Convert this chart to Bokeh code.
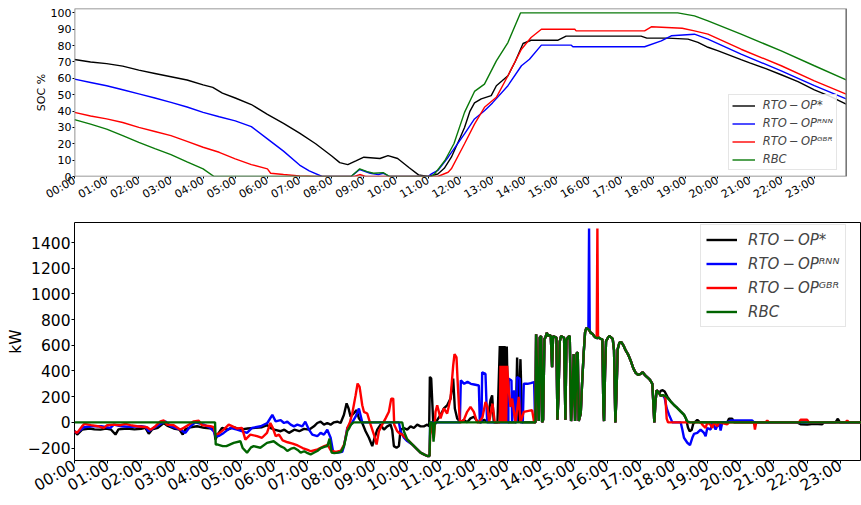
import math
from bokeh.plotting import figure
from bokeh.models import FixedTicker, Range1d, Legend, LegendItem, BoxAnnotation
from bokeh.layouts import column
from bokeh.embed import file_html
from bokeh.resources import INLINE

FONT = "DejaVu Sans"

# ---------------- labels / ticks / limits ----------------
hour_ticks = [0, 1, 2, 3, 4, 5, 6, 7, 8, 9, 10, 11, 12, 13, 14, 15, 16, 17, 18, 19, 20, 21, 22, 23]
hour_labels = ["00:00", "01:00", "02:00", "03:00", "04:00", "05:00", "06:00", "07:00",
               "08:00", "09:00", "10:00", "11:00", "12:00", "13:00", "14:00", "15:00",
               "16:00", "17:00", "18:00", "19:00", "20:00", "21:00", "22:00", "23:00"]
soc_ticks = [0, 10, 20, 30, 40, 50, 60, 70, 80, 90, 100]
soc_xlim = (0, 24)
soc_ylim = (0, 102.7)
kw_ticks = [-200, 0, 200, 400, 600, 800, 1000, 1200, 1400]
kw_labels = ["\u2212200", "0", "200", "400", "600", "800", "1000", "1200", "1400"]
series_names = ["RTO\u2009\u2212\u2009OP*", "RTO\u2009\u2212\u2009OP\u1d3f\u1d3a\u1d3a",
                "RTO\u2009\u2212\u2009OP\u1d33\u1d2e\u1d3f", "RBC"]

# ---------------- SOC (%) : (hour, value) ----------------
soc_opt = [(0.0, 71.5), (0.5, 70), (1.0, 69), (1.5, 67.5), (2.0, 65), (2.5, 63), (3.0, 61), (3.5, 59),
           (4.0, 56), (4.3, 54.5), (4.6, 51), (5.0, 48), (5.5, 44), (6.0, 38), (6.5, 32.5), (7.0, 26.5),
           (7.5, 20), (8.0, 12.5), (8.25, 8.5), (8.5, 7.3), (8.75, 9.5), (9.0, 11.8), (9.5, 11),
           (9.75, 12.8), (10.05, 11), (10.4, 5.5), (10.7, 1), (11.0, 0), (11.3, 1.5), (11.5, 5),
           (11.72, 11.8), (12.0, 24), (12.13, 30), (12.3, 40), (12.44, 45), (12.65, 47.5), (12.96, 49.4),
           (13.12, 55.5), (13.3, 58.5), (13.48, 61.6), (13.7, 70), (13.95, 81.3), (14.2, 83.3),
           (15.04, 83.3), (15.29, 85.8), (17.62, 85.8), (17.8, 84.6), (18.45, 84.6), (19.08, 84),
           (19.39, 82), (19.7, 79), (20.0, 77), (20.73, 71.5), (21.0, 69.5), (21.5, 66), (21.98, 62.2),
           (22.5, 58), (23.01, 53), (23.5, 49), (24.0, 44.3)]
soc_rnn = [(0.0, 59.5), (0.5, 57.5), (1.0, 55.5), (1.5, 53), (2.0, 50.5), (2.5, 48), (3.0, 45.3),
           (3.5, 42.5), (4.0, 39.2), (4.5, 36.5), (5.0, 34), (5.5, 30.5), (6.0, 23), (6.5, 15.5),
           (7.0, 7), (7.3, 3.5), (7.7, 0), (8.6, 0), (8.87, 4.3), (9.2, 2), (9.45, 1.2), (9.6, 2),
           (9.8, 0), (11.0, 0), (11.1, 1.6), (11.3, 3.7), (11.62, 11.8), (12.13, 26), (12.44, 35.2),
           (12.75, 40.2), (13.0, 45), (13.48, 55.5), (13.9, 67.7), (14.15, 71.7), (14.52, 80.3),
           (15.45, 80.3), (15.5, 79.3), (17.73, 79.3), (18.25, 82.9), (18.56, 86), (19.28, 87),
           (19.7, 84), (20.73, 74.8), (21.98, 64.6), (23.01, 55.5), (24.0, 47.4)]
soc_gbr = [(0.0, 39.2), (0.5, 37), (1.0, 35.2), (1.5, 33), (2.0, 30), (2.5, 27.5), (3.0, 25),
           (3.5, 21.5), (4.0, 17.9), (4.5, 14.8), (5.0, 10.8), (5.5, 7.3), (6.0, 4.7), (6.1, 2),
           (6.5, 1.2), (7.0, 0.4), (7.5, 0), (8.7, 0), (8.87, 1.2), (9.05, 0), (11.3, 0), (11.62, 2.6),
           (11.72, 4.7), (12.13, 20), (12.44, 32), (12.75, 42.3), (13.12, 48.4), (13.48, 61.6),
           (13.9, 77.8), (14.2, 85), (14.52, 90), (15.56, 90), (15.6, 89), (17.73, 89), (17.94, 91.5),
           (18.9, 90.6), (19.28, 89), (19.7, 87), (20.73, 77.8), (21.98, 67.7), (23.01, 58.5),
           (24.0, 50.4)]
soc_rbc = [(0.0, 34.8), (0.5, 32), (1.0, 29), (1.5, 25), (2.0, 20.9), (2.5, 17), (3.0, 13.4),
           (3.5, 9), (4.0, 4.7), (4.34, 0), (8.6, 0), (8.87, 4.7), (9.1, 3), (9.3, 2), (9.6, 2.4),
           (9.8, 0), (11.1, 0), (11.2, 1.6), (11.52, 9.8), (11.8, 20), (12.13, 39.2), (12.44, 52),
           (12.75, 56.5), (13.12, 70.7), (13.48, 81.9), (13.87, 100), (18.76, 100), (19.28, 98.2),
           (19.7, 95.1), (20.73, 87), (21.98, 76.8), (23.01, 67.7), (24.0, 59.1)]

# ---------------- Power (kW) : (hour, value) ----------------
kw_opt_am = [(0, -70), (0.08, -95), (0.23, -57), (0.45, -48), (0.6, -55), (0.78, -57), (0.95, -48),
             (1.1, -57), (1.23, -95), (1.32, -55), (1.58, -48), (1.8, -55), (2.0, -50), (2.13, -43),
             (2.23, -88), (2.33, -55), (2.5, -43), (2.68, -5), (2.78, -25), (2.98, -48), (3.15, -57),
             (3.25, -95), (3.33, -55), (3.48, -38), (3.68, -30), (3.9, -43), (4.13, -48), (4.2, -60),
             (4.23, -134), (4.33, -82), (4.43, -43), (4.6, -57), (4.78, -38), (4.98, -57), (5.2, -48),
             (5.43, -43), (5.63, -38), (5.79, -22), (5.88, -43), (6.0, -57), (6.19, -69), (6.3, -57),
             (6.44, -82), (6.6, -57), (6.75, -69), (6.89, -51), (7.04, -57), (7.19, -31), (7.29, -5),
             (7.39, 5), (7.49, -18), (7.59, -5), (7.69, -18), (7.79, 0), (7.89, 5), (7.99, -5),
             (8.09, 59), (8.17, 148), (8.23, 108), (8.29, 44), (8.38, 69), (8.47, 95), (8.54, 31),
             (8.64, -5), (8.74, -69), (8.84, -120), (8.94, -185), (9.01, -120), (9.09, -57),
             (9.19, -18), (9.29, -57), (9.39, -31), (9.49, -18), (9.54, -60), (9.59, -185),
             (9.67, -198), (9.74, -185), (9.79, -57), (9.89, -44), (9.99, -57), (10.09, -31),
             (10.19, -44), (10.29, -18), (10.39, -31), (10.49, -31), (10.59, -18), (10.65, -31),
             (10.67, 354), (10.71, 341), (10.77, 0), (10.82, -18), (10.89, 18), (10.99, 59),
             (11.09, 108), (11.19, 133), (11.29, 185), (11.37, 340), (11.42, 108), (11.49, 31),
             (11.59, 0), (11.69, 18), (11.79, 0), (11.89, 31), (11.99, 44), (12.09, 10), (12.19, 0),
             (12.3, 20), (12.4, 0), (12.49, 172), (12.54, 210), (12.59, 0), (12.7, 0), (12.77, 595),
             (12.8, 0), (12.84, 595), (12.87, 0), (12.91, 595), (12.94, 0), (12.98, 590), (13.02, 0),
             (13.25, 0), (13.29, 505), (13.33, 0), (13.39, 492), (13.44, 0), (13.84, 0)]
kw_rnn_am = [(0, -70), (0.08, -82), (0.28, -38), (0.5, -30), (0.8, -30), (1.08, -43), (1.18, -18),
             (1.4, -30), (1.68, -35), (2.0, -30), (2.13, -35), (2.23, -70), (2.38, -43), (2.58, -12),
             (2.73, 8), (2.88, -30), (3.18, -57), (3.33, -82), (3.48, -30), (3.63, 0), (3.88, -18),
             (4.08, -43), (4.18, -70), (4.23, -107), (4.33, -107), (4.48, -82), (4.68, -43),
             (4.88, -57), (5.18, -82), (5.33, -43), (5.59, -30), (5.79, -5), (5.94, 58), (6.04, 8),
             (6.19, 18), (6.29, -5), (6.39, 5), (6.49, -18), (6.59, -31), (6.69, -18), (6.84, -31),
             (6.93, 5), (7.04, -57), (7.14, -95), (7.29, -108), (7.39, -82), (7.49, -95), (7.59, -57),
             (7.69, -120), (7.77, -236), (7.9, -236), (8.04, -230), (8.09, -185), (8.19, -44),
             (8.3, -18), (8.44, 44), (8.54, 108), (8.64, 0), (9.74, 0), (9.79, -69), (9.89, -120),
             (9.99, -146), (10.14, -172), (10.29, -210), (10.39, -236), (10.49, -249), (10.59, -262),
             (10.66, -262), (10.68, 0), (11.57, 0), (11.6, 328), (11.7, 300), (11.8, 315), (11.9, 300),
             (12.0, 295), (12.14, 287), (12.17, 0), (12.22, 0), (12.24, 390), (12.34, 377), (12.39, 0),
             (13.02, 0), (13.04, 339), (13.12, 326), (13.14, 0), (13.2, 249), (13.24, 0), (13.27, 0),
             (13.29, 352), (13.37, 340), (13.39, 0), (13.46, 0), (13.49, 300), (13.6, 300),
             (13.7, 305), (13.8, 313), (13.83, 0)]
kw_gbr_am = [(0, -70), (0.08, -82), (0.23, -30), (0.3, -12), (0.5, -22), (0.7, -30), (0.88, -43),
             (0.98, -22), (1.18, -18), (1.38, -22), (1.53, -12), (1.68, -22), (1.88, -30), (2.18, -38),
             (2.28, -57), (2.43, -30), (2.58, 8), (2.68, 15), (2.78, -18), (2.98, -22), (3.18, -57),
             (3.28, -43), (3.43, -18), (3.58, 8), (3.73, 12), (3.83, -22), (4.08, -30), (4.18, -38),
             (4.23, -95), (4.33, -88), (4.48, -57), (4.63, -18), (4.73, -30), (4.88, -48), (5.03, -43),
             (5.13, -134), (5.28, -95), (5.48, -107), (5.63, -120), (5.78, -82), (5.88, -5),
             (5.95, -40), (6.04, -107), (6.14, -95), (6.25, -140), (6.4, -155), (6.55, -165),
             (6.7, -180), (6.85, -200), (7.0, -215), (7.1, -225), (7.3, -210), (7.5, -185),
             (7.6, -175), (7.7, -220), (7.85, -230), (8.0, -220), (8.1, -170), (8.2, -40), (8.27, 0),
             (8.34, 69), (8.44, 210), (8.5, 302), (8.56, 276), (8.64, 133), (8.69, 82), (8.79, 69),
             (8.89, -18), (8.99, -95), (9.07, -172), (9.14, -69), (9.24, -18), (9.34, 31), (9.44, 82),
             (9.51, 185), (9.57, 185), (9.6, -18), (9.69, -69), (9.74, -82), (9.84, -95), (9.99, -133),
             (10.14, -172), (10.29, -210), (10.39, -236), (10.49, -249), (10.59, -262), (10.66, -262),
             (10.69, 0), (10.74, -57), (10.79, -123), (10.84, 82), (10.89, 133), (10.99, 31),
             (11.09, 108), (11.19, 69), (11.29, 185), (11.37, 441), (11.41, 531), (11.47, 505),
             (11.51, 287), (11.57, 0), (11.69, 18), (11.79, 82), (11.89, 120), (11.99, 82), (12.09, 0),
             (12.14, 0), (12.25, 40), (12.34, 159), (12.4, 120), (12.45, 0), (12.55, 146), (12.62, 0),
             (12.77, 0), (12.79, 441), (12.82, 0), (12.86, 441), (12.89, 0), (12.93, 441), (12.96, 0),
             (12.99, 441), (13.04, 249), (13.09, 120), (13.14, 185), (13.24, 0), (13.34, 198),
             (13.39, 0), (13.49, 82), (13.74, 95), (13.8, 0), (13.84, 0)]
kw_rbc_am = [(0, 0), (4.22, 0), (4.24, -172), (4.28, -172), (4.45, -185), (4.56, -185), (4.78, -160),
             (4.98, -147), (5.05, -200), (5.18, -236), (5.3, -195), (5.38, -185), (5.58, -198),
             (5.78, -160), (5.98, -147), (6.1, -170), (6.18, -185), (6.3, -200), (6.39, -223),
             (6.5, -205), (6.59, -198), (6.7, -215), (6.79, -236), (6.9, -225), (7.0, -240),
             (7.09, -250), (7.2, -235), (7.29, -223), (7.4, -200), (7.5, -190), (7.59, -185),
             (7.66, -127), (7.72, -236), (7.8, -240), (7.9, -236), (8.0, -230), (8.09, -185),
             (8.19, -69), (8.25, -44), (8.3, -18), (8.38, 0), (9.84, 0), (9.89, -69), (9.99, -133),
             (10.14, -172), (10.29, -210), (10.39, -236), (10.49, -249), (10.59, -262), (10.66, -262),
             (10.68, 0), (10.75, 0), (10.78, -150), (10.82, 0), (13.84, 0)]

# afternoon PV-driven period where all four strategies coincide
kw_pm_a = [(13.84, 0), (13.86, 685), (13.90, 300), (13.94, 10), (13.97, 660), (14.01, 672), (14.04, 0),
           (14.07, 20), (14.11, 650), (14.14, 660), (14.18, 697), (14.22, 672), (14.26, 680),
           (14.30, 672), (14.34, 430), (14.37, 672), (14.42, 665), (14.47, 659), (14.50, 20),
           (14.53, 200), (14.57, 630), (14.61, 672), (14.66, 665), (14.70, 659), (14.74, 20),
           (14.77, 640), (14.82, 665), (14.87, 672), (14.91, 10), (14.94, 150), (14.99, 531),
           (15.03, 10), (15.08, 540), (15.11, 544), (15.14, 10), (15.20, 69), (15.24, 300),
           (15.29, 544), (15.33, 700), (15.37, 735), (15.40, 730)]
kw_pm_b = [(15.50, 697), (15.55, 690), (15.60, 672), (15.65, 660)]
kw_pm_c = [(15.75, 660), (15.80, 650), (15.85, 646), (15.88, 100), (15.90, 10), (15.93, 400),
           (15.96, 633), (16.02, 660), (16.06, 672), (16.12, 660), (16.16, 650), (16.20, 560),
           (16.24, 0), (16.27, 200), (16.31, 570), (16.36, 620), (16.42, 625), (16.48, 600),
           (16.55, 560), (16.62, 530), (16.70, 480), (16.78, 420), (16.85, 385), (16.92, 370),
           (17.00, 377), (17.06, 390), (17.12, 370), (17.20, 351), (17.28, 330), (17.35, 300),
           (17.38, 150), (17.41, 0), (17.44, 150), (17.48, 250), (17.52, 238), (17.56, 225)]

kw_opt_s1 = [(15.45, 720)]
kw_opt_s2 = [(15.70, 655)]
kw_rnn_s1 = [(15.43, 725), (15.45, 1510), (15.47, 715)]
kw_rnn_s2 = [(15.70, 655)]
kw_gbr_s1 = [(15.45, 720)]
kw_gbr_s2 = [(15.68, 660), (15.70, 1510), (15.72, 655)]
kw_rbc_s1 = [(15.45, 720)]
kw_rbc_s2 = [(15.70, 655)]

kw_opt_ev = [(17.60, 245), (17.66, 250), (17.72, 240), (17.8, 200), (17.9, 165), (18.0, 135),
             (18.1, 112), (18.2, 85), (18.3, 60), (18.36, 30), (18.42, -40), (18.47, -70),
             (18.53, -60), (18.58, -10), (18.62, 0), (18.7, 20), (18.78, 0), (19.6, 0), (19.65, 28),
             (19.75, 28), (19.8, 0), (21.7, 0), (21.8, -15), (22.0, -18), (22.2, -12), (22.45, -15),
             (22.5, 0), (22.85, 0), (22.92, 28), (22.98, 0), (24.0, 0)]
kw_rnn_ev = [(17.60, 205), (17.66, 212), (17.72, 190), (17.78, 110), (17.85, 60), (17.95, 0),
             (18.2, 0), (18.25, -56), (18.3, -120), (18.4, -159), (18.48, -177), (18.55, -120),
             (18.6, -90), (18.7, -82), (18.8, -56), (18.9, -82), (18.95, -108), (19.0, -44),
             (19.1, -56), (19.15, 0), (19.25, -56), (19.35, 0), (19.4, -64), (19.45, 0), (19.6, 0),
             (19.7, 15), (20.35, 15), (20.4, 0), (24.0, 0)]
kw_gbr_ev = [(17.60, 205), (17.66, 212), (17.74, 200), (17.78, 30), (17.82, 0), (18.8, 0),
             (18.85, -18), (18.9, -31), (18.95, -44), (19.0, 0), (19.1, -20), (19.15, -44), (19.2, 0),
             (19.3, -31), (19.35, 0), (19.6, -15), (19.65, 0), (20.4, 0), (20.43, -56), (20.47, 0),
             (20.75, 0), (20.8, 15), (20.85, 0), (21.75, 0), (21.8, 20), (22.0, 20), (22.05, 0),
             (23.15, 0), (23.2, 15), (23.25, 0), (24.0, 0)]
kw_rbc_ev = [(17.60, 205), (17.66, 212), (17.75, 205), (17.9, 162), (18.1, 110), (18.3, 59),
             (18.4, 8), (18.48, 0), (24.0, 0)]


def xy(pairs):
    return [p[0] for p in pairs], [p[1] for p in pairs]


soc_series = [soc_opt, soc_rnn, soc_gbr, soc_rbc]
kw_series = [
    kw_opt_am + kw_pm_a + kw_opt_s1 + kw_pm_b + kw_opt_s2 + kw_pm_c + kw_opt_ev,
    kw_rnn_am + kw_pm_a + kw_rnn_s1 + kw_pm_b + kw_rnn_s2 + kw_pm_c + kw_rnn_ev,
    kw_gbr_am + kw_pm_a + kw_gbr_s1 + kw_pm_b + kw_gbr_s2 + kw_pm_c + kw_gbr_ev,
    kw_rbc_am + kw_pm_a + kw_rbc_s1 + kw_pm_b + kw_rbc_s2 + kw_pm_c + kw_rbc_ev,
]
soc_colors = ["black", "#0000ff", "#ff0000", "#0a7a0a"]
kw_colors = ["black", "#0000ff", "#ff0000", "#006400"]


def style(p, fs, tick_out, standoff, label_standoff):
    p.xgrid.visible = False
    p.ygrid.visible = False
    for ax in (p.xaxis[0], p.yaxis[0]):
        ax.axis_line_color = None
        ax.major_tick_out = tick_out
        ax.major_tick_in = 0
        ax.major_tick_line_color = "black"
        ax.minor_tick_line_color = None
        ax.major_label_text_font = FONT
        ax.major_label_text_font_size = fs
        ax.major_label_text_color = "black"
        ax.major_label_standoff = standoff
        ax.axis_label_text_font = FONT
        ax.axis_label_text_font_size = fs
        ax.axis_label_text_font_style = "normal"
        ax.axis_label_text_color = "black"
        ax.axis_label_standoff = label_standoff
    p.xaxis[0].ticker = FixedTicker(ticks=hour_ticks)
    p.xaxis[0].major_label_overrides = dict(zip(hour_ticks, hour_labels))
    p.xaxis[0].major_label_orientation = math.radians(30)


# Both figures share aligned frame borders inside the column (left 74 px, right 0 px).
# Top panel: the 0-24 h axes box ends before the right edge, so its frame range is
# extended and the axes box is drawn as an annotation at the data limits.
TOP_FRAME_PX = 861 - 74
TOP_PX_PER_H = 771.7 / 24.0

# ---------------- top: SOC ----------------
p1 = figure(width=861, height=210, output_backend="svg", toolbar_location=None, title=None,
            x_range=Range1d(soc_xlim[0], TOP_FRAME_PX / TOP_PX_PER_H), y_range=Range1d(*soc_ylim),
            min_border_left=74, min_border_right=0, min_border_top=8, min_border_bottom=34)
style(p1, "11px", 2, 1, 0)
p1.yaxis[0].ticker = FixedTicker(ticks=soc_ticks)
p1.yaxis[0].axis_label = "SOC %"
p1.outline_line_color = None
p1.background_fill_color = "white"

items1 = []
for name, data, col in zip(series_names, soc_series, soc_colors):
    xs, ys = xy(data)
    r = p1.line(xs, ys, line_color=col, line_width=1.4)
    items1.append(LegendItem(label=name, renderers=[r]))

p1.add_layout(BoxAnnotation(left=soc_xlim[0], right=soc_xlim[1], bottom=soc_ylim[0], top=soc_ylim[1],
                            fill_alpha=0, fill_color=None, line_color="#777777", line_alpha=1.0,
                            line_width=1.6))

leg1 = Legend(items=items1, location=(653.7, 6), margin=0, padding=3, spacing=4,
              glyph_width=23, glyph_height=13, label_height=13, label_standoff=8,
              label_text_font=FONT, label_text_font_style="italic", label_text_font_size="11.5px",
              border_line_color="#cccccc", border_line_width=1, background_fill_alpha=0.85)
p1.add_layout(leg1)

# ---------------- bottom: kW ----------------
p2 = figure(width=861, height=295, output_backend="svg", toolbar_location=None, title=None,
            x_range=Range1d(0, 23.63), y_range=Range1d(-297, 1556),
            min_border_left=74, min_border_right=0, min_border_top=12, min_border_bottom=42)
style(p2, "15.5px", 3, 1, 0)
p2.yaxis[0].ticker = FixedTicker(ticks=kw_ticks)
p2.yaxis[0].major_label_overrides = dict(zip(kw_ticks, kw_labels))
p2.yaxis[0].axis_label = "kW"
p2.outline_line_color = "black"
p2.outline_line_width = 1

items2 = []
for name, data, col in zip(series_names, kw_series, kw_colors):
    xs, ys = xy(data)
    r = p2.line(xs, ys, line_color=col, line_width=2.4)
    items2.append(LegendItem(label=name, renderers=[r]))
leg2 = Legend(items=items2, location=(626, 133), margin=0, padding=5, spacing=5,
              glyph_width=31, glyph_height=19, label_height=19, label_standoff=11,
              label_text_font=FONT, label_text_font_style="italic", label_text_font_size="15px",
              border_line_color="#cccccc", border_line_width=1, background_fill_alpha=0.85)
p2.add_layout(leg2)

layout = column(p1, p2, spacing=0)
open("out.html", "w").write(file_html(layout, INLINE))
